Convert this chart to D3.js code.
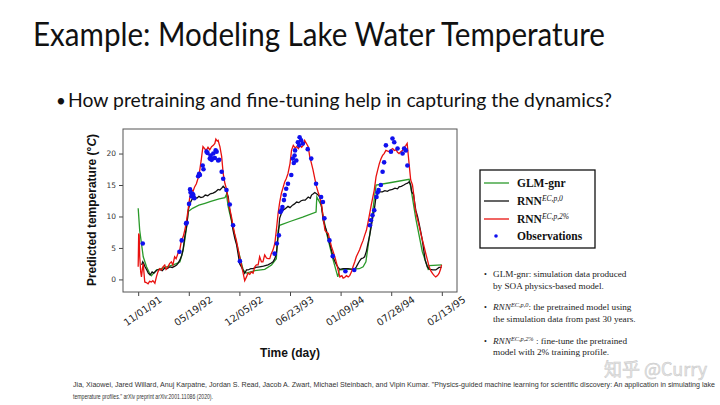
<!DOCTYPE html>
<html><head><meta charset="utf-8">
<script src="https://cdn.jsdelivr.net/npm/d3@7"></script>
<style>html,body{margin:0;padding:0;background:#fff;}svg{display:block;}</style>
</head><body>
<svg id="c" width="720" height="405"></svg>
<script>
// ---- data (day offset from 11/01/91, temperature °C) ----
const tickDays = [0, 200, 400, 600, 800, 1000, 1200];
const tickLabels = ["11/01/91", "05/19/92", "12/05/92", "06/23/93", "01/09/94", "07/28/94", "02/13/95"];
const yTicks = [0, 5, 10, 15, 20];

const glmDays = [0,6,20,33,46,52,72,112,138,151,165,177,184,192,198,215,240,264,287,320,343,349,356,375,395,415,428,461,500,527,546,553,559,600,650,703,706,723,743,769,789,795,874,889,900,920,940,1000,1071,1077,1097,1123,1147,1150,1200];
const glmTemp = [11.3,7.8,3.6,2.0,0.9,0.6,1.5,2.0,2.3,2.5,2.8,4.5,6.2,8.5,10.8,11.3,11.8,12.1,12.4,12.8,13.0,13.5,11.5,8.2,4.7,1.5,1.0,1.4,1.6,2.3,3.3,7.8,8.6,9.2,9.9,10.7,13.1,11.8,7.6,3.3,0.4,1.5,1.7,2.0,2.8,8.6,15.0,15.4,15.9,14.7,9.7,4.4,1.5,2.2,2.3];

const rnn0Days = [14,18,21,27,34,40,47,55,62,74,85,95,105,113,125,135,145,152,158,165,172,178,185,192,198,204,211,218,224,232,240,248,257,265,275,285,296,305,316,323,330,336,343,349,356,362,369,375,382,389,395,401,408,415,421,428,434,445,454,465,480,495,513,526,533,540,546,553,559,566,572,580,592,600,610,618,626,635,644,652,660,672,680,685,692,698,705,711,718,725,731,738,744,751,757,764,770,777,784,790,797,810,830,845,856,862,869,876,882,889,895,902,908,915,921,927,933,940,946,953,965,975,985,993,1005,1015,1025,1031,1040,1050,1058,1065,1071,1077,1081,1088,1097,1104,1110,1117,1123,1128,1134,1143,1152,1165,1176,1189,1199];
const rnn0Temp = [2.3,2.8,2.6,2.0,1.5,1.0,0.7,1.2,1.0,1.5,1.6,1.4,1.8,1.7,2.0,1.9,2.1,2.3,2.6,3.1,3.8,4.9,7.0,8.6,11.0,12.0,12.6,13.0,13.1,12.9,13.2,13.0,13.1,13.4,13.3,13.6,13.7,13.9,14.3,14.2,14.5,14.8,14.5,14.0,13.1,11.0,9.5,7.8,6.5,5.5,4.0,2.5,2.0,1.4,0.95,1.5,1.5,1.7,1.7,1.9,2.0,2.1,2.3,2.6,2.8,3.3,4.1,6.8,9.7,10.5,11.0,11.2,11.6,11.4,11.8,12.0,12.3,12.2,12.5,12.6,12.6,13.1,12.9,13.4,13.6,13.8,13.6,13.4,13.1,11.5,9.4,8.5,7.8,6.6,5.7,4.6,3.6,2.9,2.3,1.9,1.6,1.7,1.7,1.6,1.6,2.0,2.5,3.0,3.3,3.4,3.6,4.5,5.7,7.0,8.4,9.8,11.0,13.2,13.6,13.9,13.9,14.1,14.0,14.2,14.3,14.5,14.4,14.7,14.8,15.0,15.2,15.3,15.5,15.0,13.9,13.5,11.0,10.0,8.9,7.5,6.2,4.8,3.1,2.0,1.6,1.5,1.5,1.9,1.9];

const rnn2Days = [0,2,4,6,10,13,17,20,23,26,32,39,45,52,58,66,72,78,85,92,98,105,110,118,124,131,137,144,150,157,164,171,178,184,190,197,203,210,217,223,230,236,242,249,253,256,262,269,276,283,290,297,303,307,312,316,320,323,330,336,343,349,356,362,369,375,381,388,395,401,408,415,421,428,434,441,447,454,461,467,474,480,487,493,500,507,513,520,526,533,540,546,553,559,566,572,579,585,592,600,606,613,620,626,633,639,646,652,658,665,672,678,685,691,698,705,711,718,725,731,738,744,751,757,764,770,777,784,790,797,805,810,816,823,830,836,843,849,856,862,869,875,882,889,895,902,908,915,921,927,933,940,946,953,960,966,972,979,986,993,999,1006,1012,1019,1025,1031,1038,1045,1051,1058,1063,1068,1073,1077,1084,1089,1094,1101,1108,1117,1123,1130,1136,1143,1150,1156,1163,1170,1176,1183,1189,1195,1199];
const rnn2Temp = [2.0,7.3,7.0,3.6,1.2,0.4,1.8,2.5,1.0,-0.4,-0.5,-0.7,-0.3,-0.4,-0.2,-0.6,0.4,1.2,1.7,1.5,2.0,2.3,1.6,2.0,2.5,2.8,2.3,3.6,3.3,4.1,4.6,6.2,6.8,7.8,9.0,11.0,12.8,14.2,14.0,14.7,15.2,16.0,17.0,18.9,20.2,21.1,20.8,20.5,21.0,20.6,21.1,21.3,21.6,22.3,22.0,22.1,21.5,21.1,19.5,16.8,15.2,14.4,12.6,11.2,9.9,8.5,7.3,6.2,4.8,3.6,2.3,0.95,-0.2,0.4,1.0,0.8,1.2,1.0,2.0,2.3,2.3,3.6,2.8,2.8,3.9,3.4,3.3,3.3,4.1,4.7,5.7,7.8,10.5,12.2,13.7,14.5,15.5,16.0,16.8,18.4,20.5,21.3,20.9,21.1,20.8,21.3,21.0,21.3,22.1,21.6,21.1,19.5,18.4,17.4,16.0,14.7,13.9,13.1,11.8,9.9,7.8,7.5,7.3,6.3,5.2,4.5,3.6,2.6,1.5,0.4,0.6,0.2,0.3,0.6,0.4,0.6,1.2,2.0,2.8,3.6,4.2,4.7,5.5,6.2,7.0,7.8,9.0,10.5,11.8,13.0,14.2,16.3,17.3,18.4,19.2,19.7,20.0,20.5,20.4,20.3,20.6,20.8,20.5,20.6,20.2,20.0,20.3,20.5,21.0,21.3,21.6,19.5,17.4,15.8,15.0,13.5,11.5,10.0,8.9,7.3,6.3,5.2,4.2,3.1,2.0,1.4,0.95,0.6,0.4,0.6,0.95,1.6,2.3];

const obsDays = [18,163,172,189,192,201,205,207,211,215,218,222,237,241,244,255,258,270,274,283,286,290,293,297,303,306,310,316,320,330,336,349,362,375,402,539,548,556,562,566,570,576,579,585,592,605,611,615,618,620,625,631,636,638,644,651,670,684,703,723,730,736,756,769,819,854,916,920,926,933,942,946,950,959,966,972,979,999,1005,1012,1025,1045,1051,1058,1064];
const obsTemp = [5.7,4.4,6.2,8.9,9.0,12.0,14.3,13.8,13.2,13.6,13.4,12.9,16.4,16.8,16.6,18.1,17.5,20.3,20.1,19.2,19.7,19.0,19.2,20.0,19.3,20.5,20.3,18.9,19.0,17.1,16.0,14.2,11.9,8.6,2.9,4.1,5.7,7.0,10.7,11.0,11.5,12.6,13.4,14.4,15.2,16.6,19.2,18.5,19.7,20.5,18.9,21.8,21.3,22.6,22.1,21.6,20.7,19.2,15.2,13.1,12.3,9.7,6.2,3.7,1.3,1.5,8.6,9.4,10.2,11.0,13.1,13.8,14.2,15.0,17.1,18.6,21.3,20.3,22.4,21.8,20.8,20.0,20.8,20.5,18.1];

const seriesNames = ["GLM-gnr", "RNN", "RNN", "Observations"];
const seriesSup = ["", "EC,p,0", "EC,p,2%", ""];
const seriesColors = ["#2a9a2a", "#111111", "#e8110f", "#1010ee"];

// ---- drawing ----
const svg = d3.select("#c");
const pLeft = 123, pRight = 457, pTop = 129, pBottom = 292;
const x = d3.scaleLinear().domain([-60, 1260]).range([pLeft, pRight]);
const y = d3.scaleLinear().domain([-2.0, 23.9]).range([pBottom, pTop]);

// slide texts
svg.append("text").attr("x", 33).attr("y", 46)
  .attr("font-family", "Lato, 'Open Sans', sans-serif").attr("font-size", 33)
  .attr("fill", "#111").attr("textLength", 572).attr("lengthAdjust", "spacingAndGlyphs")
  .text("Example: Modeling Lake Water Temperature");
svg.append("text").attr("x", 56).attr("y", 107)
  .attr("font-family", "Lato, sans-serif").attr("font-size", 17).attr("fill", "#111").text("•");
svg.append("text").attr("x", 68).attr("y", 107)
  .attr("font-family", "Lato, 'Open Sans', sans-serif").attr("font-size", 19)
  .attr("fill", "#111").attr("textLength", 544).attr("lengthAdjust", "spacingAndGlyphs")
  .text("How pretraining and fine-tuning help in capturing the dynamics?");

// axes
const xAxis = d3.axisBottom(x).tickValues(tickDays).tickSize(4).tickFormat((d, i) => tickLabels[i]);
const gx = svg.append("g").attr("transform", `translate(0,${pBottom})`).call(xAxis);
gx.select(".domain").remove();
gx.selectAll(".tick line").attr("stroke", "#444");
gx.selectAll(".tick text")
  .attr("font-family", "'DejaVu Sans', sans-serif").attr("font-size", 9.8).attr("fill", "#222")
  .attr("text-anchor", "middle").attr("x", 0).attr("y", 0).attr("dy", "0.35em")
  .attr("transform", "translate(4,19) rotate(-35)");

const yAxis = d3.axisLeft(y).tickValues(yTicks).tickSize(4).tickPadding(3);
const gy = svg.append("g").attr("transform", `translate(${pLeft},0)`).call(yAxis);
gy.select(".domain").remove();
gy.selectAll(".tick line").attr("stroke", "#444");
gy.selectAll(".tick text").attr("font-family", "'DejaVu Sans', sans-serif")
  .attr("font-size", 7.5).attr("fill", "#333");

// frame
svg.append("rect").attr("x", pLeft).attr("y", pTop).attr("width", pRight - pLeft).attr("height", pBottom - pTop)
  .attr("fill", "none").attr("stroke", "#555").attr("stroke-width", 1);

// axis labels
const yl = svg.append("text").attr("transform", "translate(96,210) rotate(-90)")
  .attr("text-anchor", "middle").attr("font-family", "'Liberation Sans', Arial, sans-serif")
  .attr("font-weight", "bold").attr("font-size", 12).attr("fill", "#111");
yl.append("tspan").text("Predicted temperature (°");
yl.append("tspan").attr("font-style", "italic").text("C");
yl.append("tspan").text(")");
svg.append("text").attr("x", 290).attr("y", 357).attr("text-anchor", "middle")
  .attr("font-family", "'Liberation Sans', Arial, sans-serif").attr("font-weight", "bold")
  .attr("font-size", 12).attr("fill", "#111").text("Time (day)");

// lines
const line = d3.line().x(d => x(d[0])).y(d => y(d[1]));
svg.append("clipPath").attr("id", "pc").append("rect")
  .attr("x", pLeft).attr("y", pTop).attr("width", pRight - pLeft).attr("height", pBottom - pTop);
const plot = svg.append("g").attr("clip-path", "url(#pc)");
const glm = glmDays.map((d, i) => [d, glmTemp[i]]);
const r0 = rnn0Days.map((d, i) => [d, rnn0Temp[i]]);
const r2 = rnn2Days.map((d, i) => [d, rnn2Temp[i]]);
const obs = obsDays.map((d, i) => [d, obsTemp[i]]);
plot.append("path").datum(glm).attr("d", line).attr("fill", "none").attr("stroke", seriesColors[0]).attr("stroke-width", 1.3);
plot.append("path").datum(r0).attr("d", line).attr("fill", "none").attr("stroke", seriesColors[1]).attr("stroke-width", 1.3);
plot.append("path").datum(r2).attr("d", line).attr("fill", "none").attr("stroke", seriesColors[2]).attr("stroke-width", 1.3);
plot.selectAll("circle.obs").data(obs).enter().append("circle").attr("class", "obs")
  .attr("cx", d => x(d[0])).attr("cy", d => y(d[1])).attr("r", 2.3).attr("fill", seriesColors[3]);

// legend
svg.append("rect").attr("x", 480).attr("y", 170).attr("width", 115).attr("height", 78)
  .attr("fill", "#fff").attr("stroke", "#111").attr("stroke-width", 1.3);
const legY = [183, 201, 219, 236];
seriesNames.forEach((n, i) => {
  if (i < 3) {
    svg.append("line").attr("x1", 484).attr("x2", 509).attr("y1", legY[i]).attr("y2", legY[i])
      .attr("stroke", seriesColors[i]).attr("stroke-width", 1.3);
  } else {
    svg.append("circle").attr("cx", 496).attr("cy", legY[i]).attr("r", 1.8).attr("fill", seriesColors[i]);
  }
  const t = svg.append("text").attr("x", 517).attr("y", legY[i] + 4)
    .attr("font-family", "'Liberation Serif', 'DejaVu Serif', serif").attr("font-weight", "bold")
    .attr("font-size", 11.5).attr("fill", "#111");
  t.append("tspan").text(n);
  if (seriesSup[i]) t.append("tspan").attr("dy", -4.5).attr("font-size", 7.5).attr("font-weight", "normal")
    .attr("font-style", "italic").text(seriesSup[i]);
});

// notes
const noteFont = "'Liberation Serif', 'DejaVu Serif', serif";
const notes = [
  {y: 277, bullet: true, parts: [["GLM-gnr: simulation data produced", ""]]},
  {y: 289, bullet: false, parts: [["by SOA physics-based model.", ""]]},
  {y: 310, bullet: true, parts: [["RNN", "i"], ["EC,p,0", "s"], [": the pretrained model using", "b"]]},
  {y: 322, bullet: false, parts: [["the simulation data from past 30 years.", ""]]},
  {y: 344, bullet: true, parts: [["RNN", "i"], ["EC,p,2%", "s"], [" : fine-tune the pretrained", "b"]]},
  {y: 355, bullet: false, parts: [["model with 2% training profile.", ""]]}
];
notes.forEach(nl => {
  if (nl.bullet) svg.append("text").attr("x", 484).attr("y", nl.y).attr("font-size", 8)
    .attr("font-family", noteFont).attr("fill", "#222").text("•");
  const t = svg.append("text").attr("x", 493).attr("y", nl.y).attr("font-size", 9.2)
    .attr("font-family", noteFont).attr("fill", "#222");
  nl.parts.forEach(p => {
    const s = t.append("tspan").text(p[0]);
    if (p[1] === "i") s.attr("font-style", "italic");
    if (p[1] === "s") s.attr("font-style", "italic").attr("font-size", 6.3).attr("dy", -3.5);
    if (p[1] === "b") s.attr("dy", 3.5);
  });
});

// watermark
svg.append("text").attr("x", 604).attr("y", 376).attr("font-family", "'Noto Sans CJK SC', sans-serif")
  .attr("font-size", 18).attr("fill", "#e6e6e6").attr("stroke", "#c8c8c8").attr("stroke-width", 0.5)
  .text("知乎 @Curry");

// citation
svg.append("text").attr("x", 73).attr("y", 387)
  .attr("font-family", "'Liberation Sans Narrow', 'Liberation Sans', sans-serif").attr("font-size", 7)
  .attr("fill", "#333").attr("textLength", 642).attr("lengthAdjust", "spacingAndGlyphs")
  .text("Jia, Xiaowei, Jared Willard, Anuj Karpatne, Jordan S. Read, Jacob A. Zwart,  Michael Steinbach, and Vipin Kumar. \"Physics-guided machine learning for scientific discovery: An application in simulating lake");
svg.append("text").attr("x", 73).attr("y", 399)
  .attr("font-family", "'Liberation Sans Narrow', 'Liberation Sans', sans-serif").attr("font-size", 7)
  .attr("fill", "#333").attr("textLength", 140).attr("lengthAdjust", "spacingAndGlyphs")
  .text("temperature  profiles.\" arXiv preprint arXiv:2001.11086 (2020).");
</script>
</body></html>
